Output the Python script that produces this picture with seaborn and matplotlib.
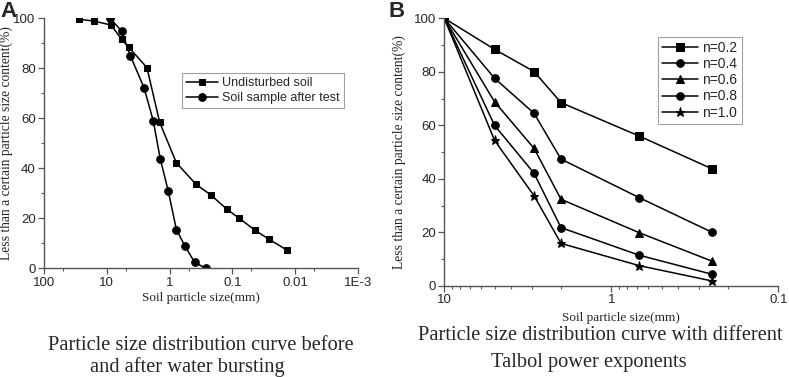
import matplotlib
matplotlib.use("Agg")
import matplotlib.pyplot as plt
import matplotlib.ticker as mticker
import pandas as pd
import seaborn as sns

# Panel A: particle size (mm) vs passing (%)
undisturbed_size = [28, 16, 8.6, 5.8, 4.5, 2.3, 1.44, 0.78, 0.38, 0.22,
                    0.123, 0.078, 0.044, 0.026, 0.0136]
undisturbed_pct = [99.6, 98.9, 97.3, 91.6, 88.5, 80.3, 58.4, 42.2, 33.6, 29.3,
                   23.7, 20.0, 15.3, 11.6, 7.3]
after_size = [8.9, 5.8, 4.2, 2.56, 1.82, 1.41, 1.05, 0.78, 0.575, 0.4, 0.266]
after_pct = [100, 94.9, 84.9, 72.3, 59.0, 43.8, 30.9, 15.5, 9.1, 2.4, 0.0]

# Panel B: Talbol curves
talbol_size = [10, 5, 2.9, 2, 0.68, 0.25]
talbol_n = ["n=0.2", "n=0.4", "n=0.6", "n=0.8", "n=1.0"]
talbol_pct = [
    [100, 88.4, 80.1, 68.5, 56.0, 43.8],
    [100, 77.6, 64.5, 47.4, 33.0, 20.1],
    [100, 68.8, 51.4, 32.4, 19.9, 9.3],
    [100, 60.0, 42.1, 21.8, 11.5, 4.4],
    [100, 54.4, 33.7, 15.9, 7.6, 1.9],
]
talbol_markers = ["s", "o", "^", "o", "*"]

a_ticks = [100, 10, 1, 0.1, 0.01, 0.001]
a_tick_labels = ["100", "10", "1", "0.1", "0.01", "1E-3"]
a_minor = [50, 5, 0.5, 0.05, 0.005]

sns.set_style("ticks")
plt.rcParams["font.family"] = ["Liberation Sans", "DejaVu Sans"]

SERIF = "Liberation Serif"
YLABEL = "Less than a certain particle size content(%)"
XLABEL = "Soil particle size(mm)"

fig = plt.figure(figsize=(7.89, 3.77), dpi=100)
ax_a = fig.add_axes([0.0558, 0.2883, 0.3979, 0.6632])
ax_b = fig.add_axes([0.5631, 0.2414, 0.4233, 0.7101])


def style_axis(ax):
    ax.set_xscale("log")
    ax.set_ylim(0, 100)
    ax.yaxis.set_major_locator(mticker.MultipleLocator(20))
    ax.yaxis.set_minor_locator(mticker.MultipleLocator(10))
    for side in ("top", "right"):
        ax.spines[side].set_visible(False)
    for side in ("left", "bottom"):
        ax.spines[side].set_color("#555555")
        ax.spines[side].set_linewidth(1.0)
    ax.tick_params(which="major", length=4, width=0.9, color="#555555",
                   labelsize=9.5, pad=2)
    ax.tick_params(which="minor", length=2.5, width=0.8, color="#555555")


# ---- Panel A
style_axis(ax_a)
df_u = pd.DataFrame({"size": undisturbed_size, "pct": undisturbed_pct})
df_s = pd.DataFrame({"size": after_size, "pct": after_pct})
sns.lineplot(data=df_u, x="size", y="pct", ax=ax_a, color="black", marker="s",
             markersize=5, linewidth=1.1, sort=False, estimator=None,
             markeredgecolor="black", label="Undisturbed soil")
sns.lineplot(data=df_s, x="size", y="pct", ax=ax_a, color="black", marker="o",
             markersize=5.5, linewidth=1.1, sort=False, estimator=None,
             markeredgecolor="black", label="Soil sample after test")
ax_a.set_xlim(100, 0.001)
ax_a.xaxis.set_major_locator(mticker.FixedLocator(a_ticks))
ax_a.xaxis.set_major_formatter(mticker.FixedFormatter(a_tick_labels))
ax_a.xaxis.set_minor_locator(mticker.FixedLocator(a_minor))
ax_a.xaxis.set_minor_formatter(mticker.NullFormatter())
ax_a.set_xlabel(XLABEL, family=SERIF, fontsize=9.5)
ax_a.set_ylabel(YLABEL, family=SERIF, fontsize=9.75)
ax_a.xaxis.set_label_coords(0.5, -0.095)
ax_a.yaxis.set_label_coords(-0.1, 0.5)
leg_a = ax_a.legend(loc="upper left", bbox_to_anchor=(0.44, 0.78), fontsize=9,
                    frameon=True, fancybox=False, edgecolor="#888888",
                    handlelength=2.6, borderpad=0.3, labelspacing=0.25,
                    handletextpad=0.3, borderaxespad=0)
leg_a.get_frame().set_linewidth(0.8)

# ---- Panel B
style_axis(ax_b)
for label, pct, mk in zip(talbol_n, talbol_pct, talbol_markers):
    df = pd.DataFrame({"size": talbol_size, "pct": pct})
    sns.lineplot(data=df, x="size", y="pct", ax=ax_b, color="black", marker=mk,
                 markersize=6.5 if mk == "*" else 5.5, linewidth=1.1, sort=False,
                 estimator=None, markeredgecolor="black", label=label)
ax_b.set_xlim(10, 0.1)
ax_b.xaxis.set_major_locator(mticker.FixedLocator([10, 1, 0.1]))
ax_b.xaxis.set_major_formatter(mticker.FixedFormatter(["10", "1", "0.1"]))
ax_b.xaxis.set_minor_locator(mticker.LogLocator(base=10, subs=range(2, 10)))
ax_b.xaxis.set_minor_formatter(mticker.NullFormatter())
ax_b.set_xlabel(XLABEL, family=SERIF, fontsize=9.5)
ax_b.set_ylabel(YLABEL, family=SERIF, fontsize=9.75)
ax_b.xaxis.set_label_coords(0.53, -0.097)
ax_b.yaxis.set_label_coords(-0.115, 0.5)
leg_b = ax_b.legend(loc="upper right", bbox_to_anchor=(0.89, 0.93), fontsize=10,
                    frameon=True, fancybox=False, edgecolor="#888888",
                    handlelength=2.6, borderpad=0.3, labelspacing=0.15,
                    handletextpad=0.3, borderaxespad=0)
leg_b.get_frame().set_linewidth(0.8)

# Panel letters
fig.text(0.0, 0.998, "A", fontsize=16, fontweight="bold", va="top", ha="left")
fig.text(0.492, 0.998, "B", fontsize=16, fontweight="bold", va="top", ha="left")

# Captions (baseline positions)
fig.text(201 / 789, 1 - 350 / 377, "Particle size distribution curve before",
         family=SERIF, fontsize=14.7, ha="center", va="baseline")
fig.text(187 / 789, 1 - 372 / 377, "and after water bursting",
         family=SERIF, fontsize=14.7, ha="center", va="baseline")
fig.text(600 / 789, 1 - 340 / 377, "Particle size distribution curve with different",
         family=SERIF, fontsize=14.7, ha="center", va="baseline")
fig.text(589 / 789, 1 - 367 / 377, "Talbol power exponents",
         family=SERIF, fontsize=14.7, ha="center", va="baseline")

fig.savefig("out.png", dpi=100)
